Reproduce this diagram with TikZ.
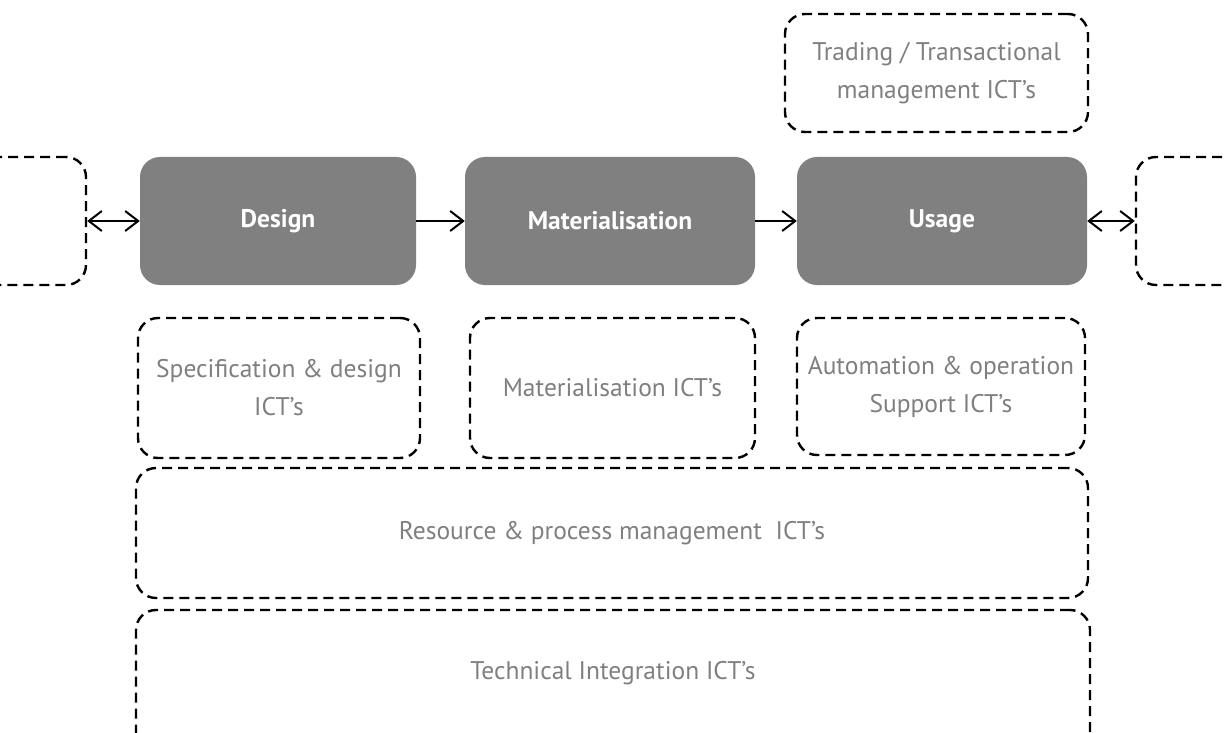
\documentclass[tikz,border=0pt]{standalone}
\usepackage{fontspec}
\setmainfont{PT Sans}
\usetikzlibrary{arrows.meta}
\definecolor{boxgray}{HTML}{808080}
\definecolor{txtgray}{HTML}{7F7F7F}
\tikzset{
  stage/.style={draw=none, fill=boxgray, rounded corners=20pt, text=white, font=\fontsize{25.5}{30}\selectfont\bfseries},
  ictbox/.style={draw=black, line width=2.4pt, dash pattern=on 10pt off 6pt, rounded corners=20pt, text=txtgray, align=center, font=\fontsize{25.5}{38}\selectfont},
  tip/.style={Straight Barb[length=13pt,width=20pt,line width=2pt]},
  flow/.style={line width=2pt, -{Straight Barb[length=13pt,width=20pt,line width=2pt]}},
  biflow/.style={line width=2pt, {Straight Barb[length=13pt,width=20pt,line width=2pt]}-{Straight Barb[length=13pt,width=20pt,line width=2pt]}}
}
\begin{document}
\begin{tikzpicture}[x=1pt,y=-1pt]
\useasboundingbox (0,0) rectangle (1227,733);
\clip (0,0) rectangle (1227,733);
% stages
\node[stage, minimum width=276pt, minimum height=128pt] (design) at (278,221) {Design};
\node[stage, minimum width=290pt, minimum height=128pt] (mat) at (610,221) {Materialisation};
\node[stage, minimum width=290pt, minimum height=128pt] (usage) at (942,221) {Usage};
% partial boxes at the edges
\node[ictbox, minimum width=146pt, minimum height=128pt] (left) at (13,221) {};
\node[ictbox, minimum width=154pt, minimum height=128pt] (right) at (1213,221) {};
% ICT boxes
\node[ictbox, minimum width=303pt, minimum height=118pt] (trading) at (936.5,73) {Trading / Transactional\\management ICT’s};
\node[ictbox, minimum width=282pt, minimum height=140pt] (spec) at (279,388) {Specification \& design\\ICT’s};
\node[ictbox, minimum width=285pt, minimum height=140pt] (matict) at (612.5,388) {Materialisation ICT’s};
\node[ictbox, minimum width=288pt, minimum height=137pt] (auto) at (941,386.5) {Automation \& operation\\Support ICT’s};
\node[ictbox, minimum width=952pt, minimum height=130pt] (res) at (612,533) {Resource \& process management\ \ ICT’s};
\node[ictbox, minimum width=954pt, minimum height=170pt] (tech) at (613,695) {};
\node[text=txtgray, font=\fontsize{25.5}{30}\selectfont] (techlbl) at (613,673) {Technical Integration ICT’s};
% connectors
\draw[biflow] (left.east) -- (design.west);
\draw[flow] (design.east) -- (mat.west);
\draw[flow] (mat.east) -- (usage.west);
\draw[biflow] (usage.east) -- (right.west);
\end{tikzpicture}
\end{document}
